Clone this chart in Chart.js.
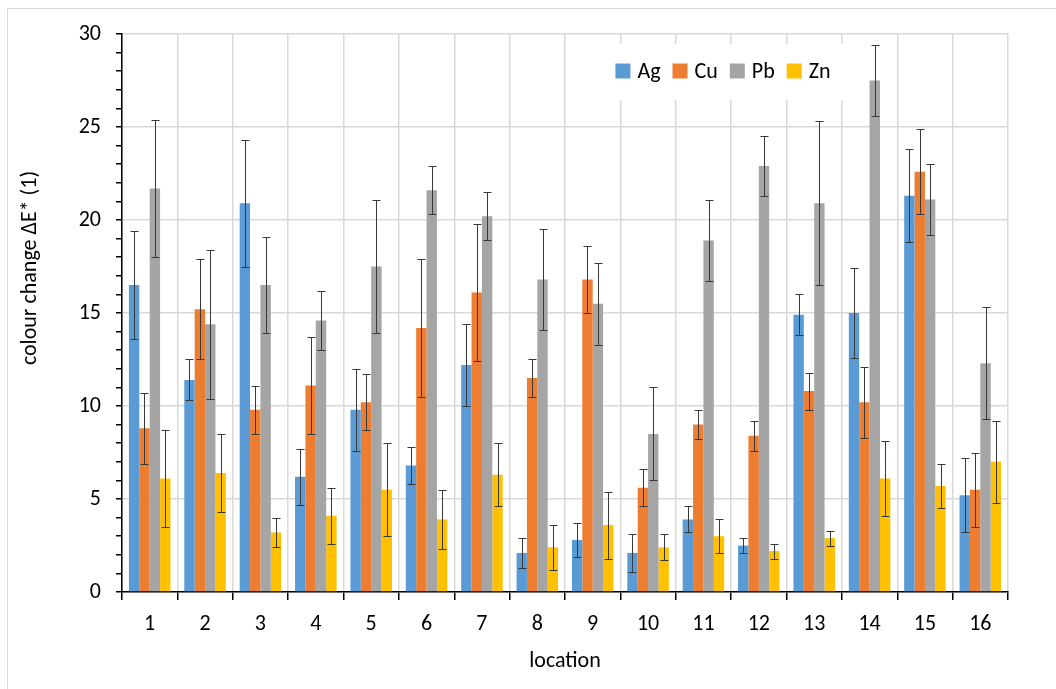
<!DOCTYPE html>
<html>
<head>
<meta charset="utf-8">
<script src="https://cdn.jsdelivr.net/npm/chart.js@4.4.1/dist/chart.umd.min.js"></script>
<style>
  html, body { margin: 0; padding: 0; background: #fff; }
  #wrap { position: relative; width: 1056px; height: 689px; overflow: hidden; }
  #frame { position: absolute; left: 7px; top: 8px; width: 1200px; height: 800px; border: 1px solid #d9d9d9; }
  #chart { position: absolute; left: 0; top: 0; }
</style>
</head>
<body>
<div id="wrap">
  <div id="frame"></div>
  <canvas id="chart" width="1056" height="689"></canvas>
</div>
<script>
// categories
const locations = ['1', '2', '3', '4', '5', '6', '7', '8', '9', '10', '11', '12', '13', '14', '15', '16'];

// mean colour change per metal
const ag = [16.5, 11.4, 20.9, 6.2, 9.8, 6.8, 12.2, 2.1, 2.8, 2.1, 3.9, 2.5, 14.9, 15.0, 21.3, 5.2];
const cu = [8.8, 15.2, 9.8, 11.1, 10.2, 14.2, 16.1, 11.5, 16.8, 5.6, 9.0, 8.4, 10.8, 10.2, 22.6, 5.5];
const pb = [21.7, 14.4, 16.5, 14.6, 17.5, 21.6, 20.2, 16.8, 15.5, 8.5, 18.9, 22.9, 20.9, 27.5, 21.1, 12.3];
const zn = [6.1, 6.4, 3.2, 4.1, 5.5, 3.9, 6.3, 2.4, 3.6, 2.4, 3.0, 2.2, 2.9, 6.1, 5.7, 7.0];

// error bar half widths
const agErr = [2.9, 1.1, 3.4, 1.5, 2.2, 1.0, 2.2, 0.8, 0.9, 1.0, 0.7, 0.4, 1.1, 2.4, 2.5, 2.0];
const cuErr = [1.9, 2.7, 1.3, 2.6, 1.5, 3.7, 3.7, 1.0, 1.8, 1.0, 0.8, 0.8, 1.0, 1.9, 2.3, 2.0];
const pbErr = [3.7, 4.0, 2.6, 1.6, 3.6, 1.3, 1.3, 2.7, 2.2, 2.5, 2.2, 1.6, 4.4, 1.9, 1.9, 3.0];
const znErr = [2.6, 2.1, 0.8, 1.5, 2.5, 1.6, 1.7, 1.2, 1.8, 0.7, 0.9, 0.4, 0.4, 2.0, 1.2, 2.2];

const FONT = "Carlito, Lato, 'Open Sans', sans-serif";
const yTitle = 'colour change ΔE* (1)';

// whiskers drawn through the y scale
const errorBars = {
  id: 'errorBars',
  afterDatasetsDraw(chart) {
    const c = chart.ctx;
    const y = chart.scales.y;
    c.save();
    c.strokeStyle = '#383838';
    c.lineWidth = 1;
    chart.data.datasets.forEach((ds, i) => {
      const meta = chart.getDatasetMeta(i);
      meta.data.forEach((bar, j) => {
        const v = ds.data[j], e = ds.errors[j];
        const x = Math.round(bar.x) + 0.5;
        const top = Math.round(y.getPixelForValue(v + e)) + 0.5;
        const bot = Math.round(y.getPixelForValue(v - e)) + 0.5;
        c.beginPath();
        c.moveTo(x, top); c.lineTo(x, bot);
        c.moveTo(x - 4, top); c.lineTo(x + 4, top);
        c.moveTo(x - 4, bot); c.lineTo(x + 4, bot);
        c.stroke();
      });
    });
    c.restore();
  }
};

// legend box inside the plot area, plus the y title (sits a bit above centre in the original)
const innerLegend = {
  id: 'innerLegend',
  afterDraw(chart) {
    const c = chart.ctx;
    c.save();
    c.font = '22px ' + FONT;
    c.textBaseline = 'middle';
    const box = 15, gap = 7, sep = 12;
    let w = 0;
    chart.data.datasets.forEach(ds => { w += box + gap + c.measureText(ds.label).width + sep; });
    w -= sep;
    const cx = 723, cy = 71;
    c.fillStyle = '#fff';
    c.fillRect(cx - w / 2 - 14, 44, w + 28, 56);
    let x = cx - w / 2;
    chart.data.datasets.forEach(ds => {
      c.fillStyle = ds.backgroundColor;
      c.fillRect(x, cy - box / 2, box, box);
      x += box + gap;
      c.fillStyle = '#000';
      c.fillText(ds.label, x, cy + 1);
      x += c.measureText(ds.label).width + sep;
    });

    c.translate(30, 268);
    c.rotate(-Math.PI / 2);
    c.textAlign = 'center';
    c.font = '22px ' + FONT;
    c.fillText(yTitle, 0, 0);
    c.restore();
  }
};

new Chart(document.getElementById('chart'), {
  type: 'bar',
  data: {
    labels: locations,
    datasets: [
      { label: 'Ag', data: ag, errors: agErr, backgroundColor: '#5b9bd5' },
      { label: 'Cu', data: cu, errors: cuErr, backgroundColor: '#ed7d31' },
      { label: 'Pb', data: pb, errors: pbErr, backgroundColor: '#a5a5a5' },
      { label: 'Zn', data: zn, errors: znErr, backgroundColor: '#ffc000' }
    ]
  },
  options: {
    responsive: false,
    animation: false,
    devicePixelRatio: 1,
    layout: { padding: { left: 0, top: 34, right: 48, bottom: 0 } },
    datasets: { bar: { categoryPercentage: 0.75, barPercentage: 1 } },
    plugins: { legend: { display: false }, tooltip: { enabled: false } },
    scales: {
      x: {
        grid: { color: '#d9d9d9', tickColor: '#000', tickLength: 8, lineWidth: 1.5 },
        border: { color: '#000', width: 1.5 },
        ticks: { color: '#000', font: { family: FONT, size: 22 }, padding: 11, maxRotation: 0 },
        title: { display: true, text: 'location', color: '#000', font: { family: FONT, size: 22 }, padding: { top: 0, bottom: 14 } },
        afterFit(scale) { scale.height = 97; }
      },
      y: {
        min: 0, max: 30,
        grid: {
          color: ctx => ctx.tick && ctx.tick.value % 5 === 0 ? '#d9d9d9' : 'rgba(0,0,0,0)',
          tickColor: '#000', tickLength: 6, lineWidth: 1.5
        },
        border: { color: '#000', width: 1.5 },
        ticks: {
          stepSize: 1, autoSkip: false, color: '#000', padding: 15,
          font: { family: FONT, size: 22 },
          callback: v => (v % 5 === 0 ? v : '')
        },
        title: { display: false, text: yTitle },
        afterFit(scale) { scale.width = 122; }
      }
    }
  },
  plugins: [errorBars, innerLegend]
});
</script>
</body>
</html>
